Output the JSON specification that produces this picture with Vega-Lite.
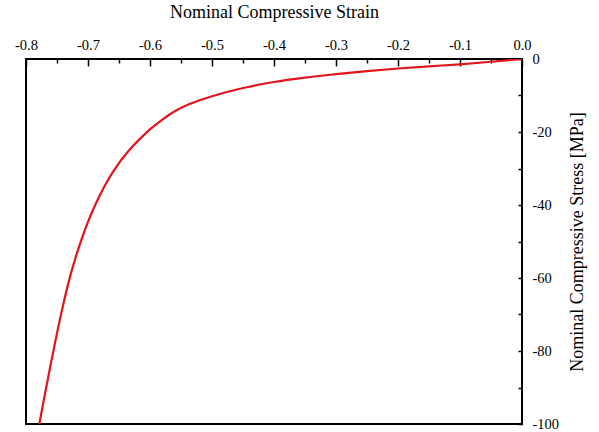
{
  "$schema": "https://vega.github.io/schema/vega-lite/v6.json",
  "autosize": "none",
  "padding": {"left": 26, "top": 59, "right": 77, "bottom": 8},
  "width": 496,
  "height": 365,
  "background": "white",
  "config": {
    "view": {"stroke": "black", "strokeWidth": 2},
    "axis": {
      "labelFont": "Liberation Serif",
      "titleFont": "Liberation Serif",
      "labelFontSize": 14.5,
      "titleFontSize": 18,
      "titleFontWeight": "normal",
      "labelColor": "black",
      "titleColor": "black",
      "domainColor": "black",
      "tickColor": "black",
      "grid": false
    }
  },
  "data": {
    "values": [
      {"strain": 0, "stress": 0},
      {"strain": -0.05, "stress": -0.75},
      {"strain": -0.1, "stress": -1.45},
      {"strain": -0.15, "stress": -2.0},
      {"strain": -0.2, "stress": -2.6},
      {"strain": -0.25, "stress": -3.3},
      {"strain": -0.3, "stress": -4.15},
      {"strain": -0.35, "stress": -5.1},
      {"strain": -0.4, "stress": -6.3},
      {"strain": -0.45, "stress": -7.95},
      {"strain": -0.5, "stress": -10.2},
      {"strain": -0.52, "stress": -11.3},
      {"strain": -0.54, "stress": -12.6},
      {"strain": -0.56, "stress": -14.3},
      {"strain": -0.58, "stress": -16.6},
      {"strain": -0.6, "stress": -19.3},
      {"strain": -0.61, "stress": -20.85},
      {"strain": -0.62, "stress": -22.5},
      {"strain": -0.63, "stress": -24.3},
      {"strain": -0.64, "stress": -26.3},
      {"strain": -0.65, "stress": -28.5},
      {"strain": -0.66, "stress": -31.0},
      {"strain": -0.67, "stress": -33.85},
      {"strain": -0.68, "stress": -37.05},
      {"strain": -0.69, "stress": -40.6},
      {"strain": -0.70, "stress": -44.6},
      {"strain": -0.71, "stress": -49.2},
      {"strain": -0.72, "stress": -54.4},
      {"strain": -0.73, "stress": -60.3},
      {"strain": -0.74, "stress": -67.3},
      {"strain": -0.75, "stress": -75.1},
      {"strain": -0.76, "stress": -83.5},
      {"strain": -0.77, "stress": -92.3},
      {"strain": -0.7785, "stress": -100.0}
    ]
  },
  "mark": {"type": "line", "color": "#e3141b", "strokeWidth": 2.2, "interpolate": "monotone", "clip": true},
  "encoding": {
    "x": {
      "field": "strain",
      "type": "quantitative",
      "scale": {"domain": [-0.8, 0], "nice": false},
      "axis": {
        "orient": "top",
        "title": "Nominal Compressive Strain",
        "values": [-0.8, -0.75, -0.7, -0.65, -0.6, -0.55, -0.5, -0.45, -0.4, -0.35, -0.3, -0.25, -0.2, -0.15, -0.1, -0.05, 0],
        "labelExpr": "abs(datum.value*10 - round(datum.value*10)) < 0.01 ? replace(format(datum.value, '.1f'), '\u2212', '-') : ''",
        "tickSize": {"condition": {"test": "abs(datum.value*10 - round(datum.value*10)) < 0.01", "value": -7}, "value": -4},
        "tickWidth": 1.5,
        "domain": false,
        "labelPadding": 14,
        "titlePadding": 13,
        "labelFlush": false,
        "labelOverlap": false
      }
    },
    "y": {
      "field": "stress",
      "type": "quantitative",
      "scale": {"domain": [-100, 0], "nice": false},
      "axis": {
        "orient": "right",
        "title": "Nominal Compressive Stress [MPa]",
        "titleAngle": 270,
        "values": [-100, -90, -80, -70, -60, -50, -40, -30, -20, -10, 0],
        "labelExpr": "datum.value % 20 == 0 ? replace(format(datum.value, 'd'), '\u2212', '-') : ''",
        "tickSize": -4,
        "tickWidth": 1.5,
        "domain": false,
        "labelPadding": 14,
        "titlePadding": 28,
        "labelFlush": false,
        "labelOverlap": false
      }
    }
  }
}
